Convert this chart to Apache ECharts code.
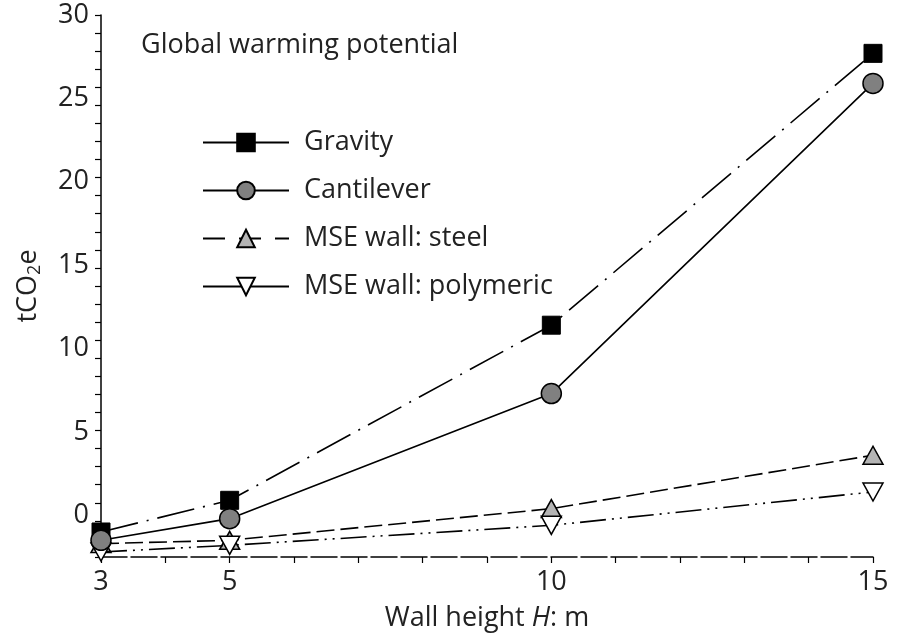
<!DOCTYPE html>
<html>
<head>
<meta charset="utf-8">
<script src="https://cdn.jsdelivr.net/npm/echarts@6/dist/echarts.min.js"></script>
<style>
html,body{margin:0;padding:0;background:#fff;}
#chart{width:904px;height:635px;}
</style>
</head>
<body>
<div id="chart"></div>
<script>
// ---- data ----
var wallHeights = [3, 5, 10, 15];
var gravity = [-1.0, 0.9, 11.4, 27.7];
var cantilever = [-1.5, -0.2, 7.3, 25.9];
var mseSteel = [-1.7, -1.5, 0.4, 3.6];
var msePolymeric = [-2.2, -1.8, -0.6, 1.4];
var seriesNames = ['Gravity', 'Cantilever', 'MSE wall: steel', 'MSE wall: polymeric'];
var xTickLabels = [3, 5, 10, 15];
var yTickLabels = [0, 5, 10, 15, 20, 25, 30];
var titleText = 'Global warming potential';

function pairs(ys) { return wallHeights.map(function (x, i) { return [x, ys[i]]; }); }

var FONT = '"Open Sans", "Noto Sans", sans-serif';
var TXT = '#222';
var FS = 27;

var chart = echarts.init(document.getElementById('chart'), null, {renderer: 'canvas'});
var option = {
  animation: false,
  backgroundColor: '#fff',
  title: {
    text: titleText, left: 136, top: 27,
    textStyle: {fontFamily: FONT, fontSize: FS, fontWeight: 'normal', color: TXT}
  },
  grid: {left: 101, right: 31, top: 15, bottom: 78, containLabel: false, outerBoundsMode: 'none'},
  legend: {
    orient: 'vertical', left: 197, top: 124,
    itemWidth: 86, itemHeight: 22, itemGap: 21,
    textStyle: {fontFamily: FONT, fontSize: FS, lineHeight: 27, color: TXT, padding: [0, 0, 0, 10]},
    data: [
      {name: seriesNames[0], lineStyle: {type: 'solid'}},
      {name: seriesNames[1]},
      {name: seriesNames[2], lineStyle: {type: [22, 14]}},
      {name: seriesNames[3], lineStyle: {type: 'solid'}}
    ]
  },
  xAxis: {
    type: 'value', min: 3, max: 15, interval: 1,
    name: '{a|Wall height }{i|H}{a|: m}', nameLocation: 'middle', nameGap: 48,
    nameTextStyle: {rich: {
      a: {fontFamily: FONT, fontSize: FS, color: TXT},
      i: {fontFamily: FONT, fontSize: FS, color: TXT, fontStyle: 'italic'}
    }},
    splitLine: {show: false},
    axisLine: {show: true, onZero: false, lineStyle: {color: '#000', width: 1.5, type: [26, 4]}},
    axisTick: {show: true, inside: false, length: 6, lineStyle: {color: '#000', width: 1.2}},
    axisLabel: {customValues: xTickLabels, margin: 12, fontFamily: FONT, fontSize: FS, color: TXT}
  },
  yAxis: [
    {
      type: 'value', min: -2.5, max: 30,
      name: '{a|tCO}{b|2}{a|e}', nameLocation: 'middle', nameGap: 57, nameRotate: 90,
      nameTextStyle: {rich: {
        a: {fontFamily: FONT, fontSize: FS, color: TXT},
        b: {fontFamily: FONT, fontSize: 18, color: TXT, padding: [13, 0, 0, 0]}
      }},
      splitLine: {show: false},
      axisLine: {show: true, onZero: false, lineStyle: {color: '#000', width: 1.5}},
      axisTick: {show: false},
      axisLabel: {customValues: yTickLabels, margin: 12, fontFamily: FONT, fontSize: FS, color: TXT}
    },
    {
      type: 'value', min: 0, max: 30, interval: 1, position: 'left',
      splitLine: {show: false},
      axisLine: {show: false},
      axisTick: {show: true, inside: false, length: 6, lineStyle: {color: '#000', width: 1.2}},
      axisLabel: {show: false}
    }
  ],
  series: [
    {
      name: seriesNames[0], type: 'line', data: pairs(gravity), z: 2,
      symbol: 'rect', symbolSize: 18,
      itemStyle: {color: '#000', borderColor: '#000', borderWidth: 1},
      lineStyle: {color: '#000', width: 1.6, type: [38, 9, 2, 9]}
    },
    {
      name: seriesNames[1], type: 'line', data: pairs(cantilever), z: 5,
      symbol: 'circle', symbolSize: 20,
      itemStyle: {color: '#808080', borderColor: '#000', borderWidth: 1.5},
      lineStyle: {color: '#000', width: 1.6, type: 'solid'}
    },
    {
      name: seriesNames[2], type: 'line', data: pairs(mseSteel), z: 3,
      symbol: 'triangle', symbolSize: [20, 18],
      itemStyle: {color: '#b4b4b4', borderColor: '#000', borderWidth: 1.5},
      lineStyle: {color: '#000', width: 1.6, type: [18, 6]}
    },
    {
      name: seriesNames[3], type: 'line', data: pairs(msePolymeric), z: 4,
      symbol: 'triangle', symbolRotate: 180, symbolSize: [20, 18],
      itemStyle: {color: '#fff', borderColor: '#000', borderWidth: 1.5},
      lineStyle: {color: '#000', width: 1.6, type: [26, 6, 2, 6, 2, 6]}
    }
  ]
};
chart.setOption(option);
</script>
</body>
</html>
